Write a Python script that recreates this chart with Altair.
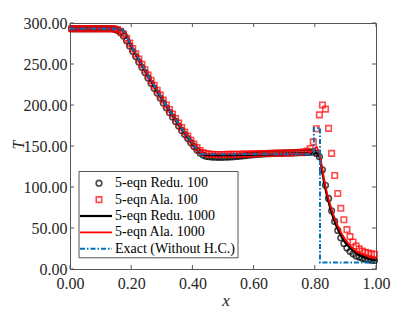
import altair as alt
import pandas as pd

# ---------------- data ----------------
# cell centres of the 100-cell runs
x100 = [round(0.005 + 0.01 * i, 3) for i in range(100)]

redu100 = [
    293, 293, 293, 293, 293, 293, 293, 293, 293, 293,
    293, 293, 293, 293, 292.5, 291, 288, 284, 278.5, 272,
    265.5, 259, 252.5, 246, 239.5, 233, 226.5, 220.5, 214.5, 208.5,
    202.5, 196.5, 191, 185.5, 180, 174.5, 169, 164, 159, 154,
    149.5, 145, 141.5, 139, 137.5, 137, 136.5, 136.3, 136.2, 136.2,
    136.3, 136.5, 136.7, 137, 137.3, 137.6, 138, 138.4, 138.8, 139.2,
    139.5, 139.8, 140.1, 140.4, 140.6, 140.8, 141, 141.2, 141.3, 141.4,
    141.5, 141.6, 141.7, 141.8, 141.9, 142, 142, 142.2, 142.4, 142.8,
    141, 137, 121, 102, 86, 71, 58, 47, 38, 31,
    25.5, 21.5, 18.5, 16, 14.5, 13, 12, 11.3, 10.8, 10.5,
]

ala100 = [
    293, 293, 293, 293, 293, 293, 293, 293, 293, 293,
    293, 293, 293, 293, 292.8, 292, 290, 286.5, 281.5, 275.5,
    269, 262.5, 256, 249.5, 243, 236.5, 230, 224, 218, 212,
    206, 200, 194.5, 189, 183.5, 178, 172.5, 167, 162, 157,
    152.5, 148, 144.5, 142, 140.8, 140.2, 139.8, 139.7, 139.7, 139.7,
    139.7, 139.8, 139.8, 139.9, 140, 140, 140.1, 140.2, 140.3, 140.4,
    140.5, 140.6, 140.7, 140.8, 140.9, 141, 141, 141.1, 141.2, 141.3,
    141.4, 141.5, 141.6, 141.8, 142, 142.3, 142.8, 144, 147, 155,
    171, 188, 200, 195, 171.5, 141, 114, 92, 74, 60,
    48, 39.5, 33, 28, 24.5, 22, 20.5, 19.5, 18.5, 18,
]

x_redu1000 = [0, 0.165, 0.172, 0.178, 0.185, 0.20, 0.22, 0.24, 0.26, 0.28,
              0.30, 0.32, 0.34, 0.36, 0.38, 0.40, 0.415, 0.425, 0.432, 0.44,
              0.47, 0.52, 0.58, 0.64, 0.70, 0.76, 0.79, 0.80, 0.808, 0.813,
              0.818, 0.823, 0.83, 0.84, 0.85, 0.86, 0.87, 0.88, 0.89, 0.90,
              0.92, 0.94, 0.96, 0.98, 1.0]
t_redu1000 = [293, 293, 292, 289.5, 285, 272, 258.5, 245.5, 232.5, 220,
              208, 196, 184.5, 173.5, 163, 152.5, 145.5, 141.5, 139.8, 139,
              138.8, 138.8, 139.2, 139.8, 140.5, 141, 141.3, 141.5, 141, 139,
              133, 122, 106, 89, 75, 63, 53, 44.5, 37.5, 32,
              24, 18, 14.5, 12, 10.5]

x_ala1000 = [0, 0.165, 0.172, 0.178, 0.185, 0.20, 0.22, 0.24, 0.26, 0.28,
             0.30, 0.32, 0.34, 0.36, 0.38, 0.40, 0.415, 0.425, 0.432, 0.44,
             0.47, 0.52, 0.58, 0.64, 0.70, 0.76, 0.78, 0.79, 0.80, 0.806,
             0.81, 0.815, 0.82, 0.83, 0.84, 0.85, 0.86, 0.87, 0.88, 0.89,
             0.90, 0.92, 0.94, 0.96, 0.98, 1.0]
t_ala1000 = [293, 293, 292.3, 290, 286, 273, 259.5, 246.5, 233.5, 221,
             209, 197, 185.5, 174.5, 164, 153.5, 146.5, 142.5, 140.8, 140.2,
             140, 140, 140, 140.2, 140.5, 140.8, 141, 143, 147, 149,
             146, 141, 132, 110, 92, 79, 67, 57, 48.5, 41.5,
             35.5, 26.5, 20.5, 17.5, 14.5, 12.5]

x_exact = [0, 0.172, 0.18, 0.20, 0.22, 0.24, 0.26, 0.28, 0.30, 0.32, 0.34,
           0.36, 0.38, 0.40, 0.42, 0.428, 0.797, 0.797, 0.817, 0.817, 1.0]
t_exact = [293, 293, 287, 272.5, 259, 246, 233, 220.5, 208.5, 196.5, 185,
           174, 163.5, 153, 143.5, 140, 140, 172, 172, 8, 8]

x_ticks = [0, 0.2, 0.4, 0.6, 0.8, 1.0]
y_ticks = [0, 50, 100, 150, 200, 250, 300]

legend_labels = ["5-eqn Redu. 100", "5-eqn Ala. 100", "5-eqn Redu. 1000",
                 "5-eqn Ala. 1000", "Exact (Without H.C.)"]

# ---------------- styling ----------------
W, H = 306, 246
FONT = "Liberation Serif"
AXC = "#555555"
BLUE = "#0072BD"

xs = alt.Scale(domain=[0, 1], nice=False, zero=False)
ys = alt.Scale(domain=[0, 300], nice=False, zero=False)

xaxis = alt.Axis(values=x_ticks, format=".2f", ticks=False, domain=False, grid=False,
                 labelFont=FONT, labelFontSize=16, labelColor="#262626",
                 labelPadding=6, labelFlush=False, title=None)
yaxis = alt.Axis(values=y_ticks, format=".2f", ticks=False, domain=False, grid=False,
                 labelFont=FONT, labelFontSize=16, labelColor="#262626",
                 labelPadding=3, labelFlush=False, title=None)

pts = pd.DataFrame({"x": x100, "redu": redu100, "ala": ala100})

circles = alt.Chart(pts).mark_point(shape="circle", filled=False, color="black",
                                     size=32, strokeWidth=1.6).encode(
    x=alt.X("x:Q", scale=xs, axis=xaxis),
    y=alt.Y("redu:Q", scale=ys, axis=yaxis),
)
squares = alt.Chart(pts).mark_point(shape="square", filled=False, color="#ff0000",
                                     size=30, strokeWidth=1.6).encode(
    x=alt.X("x:Q", scale=xs),
    y=alt.Y("ala:Q", scale=ys),
)

def line_df(xv, tv):
    return pd.DataFrame({"x": xv, "t": tv, "o": list(range(len(xv)))})

black_line = alt.Chart(line_df(x_redu1000, t_redu1000)).mark_line(
    color="black", strokeWidth=2.2).encode(
    x=alt.X("x:Q", scale=xs), y=alt.Y("t:Q", scale=ys), order="o:Q")
red_line = alt.Chart(line_df(x_ala1000, t_ala1000)).mark_line(
    color="#ff0000", strokeWidth=1.8).encode(
    x=alt.X("x:Q", scale=xs), y=alt.Y("t:Q", scale=ys), order="o:Q")
exact_line = alt.Chart(line_df(x_exact, t_exact)).mark_line(
    color=BLUE, strokeWidth=2, strokeDash=[5, 2, 1.5, 2]).encode(
    x=alt.X("x:Q", scale=xs), y=alt.Y("t:Q", scale=ys), order="o:Q")

# inward ticks on all four sides
xt = pd.DataFrame({"v": x_ticks})
yt = pd.DataFrame({"v": y_ticks})
tick_bottom = alt.Chart(xt).mark_rule(color=AXC, strokeWidth=1).encode(
    x=alt.X("v:Q", scale=xs), y=alt.value(H), y2=alt.value(H - 4))
tick_top = alt.Chart(xt).mark_rule(color=AXC, strokeWidth=1).encode(
    x=alt.X("v:Q", scale=xs), y=alt.value(0), y2=alt.value(4))
tick_left = alt.Chart(yt).mark_rule(color=AXC, strokeWidth=1).encode(
    y=alt.Y("v:Q", scale=ys), x=alt.value(0), x2=alt.value(4))
tick_right = alt.Chart(yt).mark_rule(color=AXC, strokeWidth=1).encode(
    y=alt.Y("v:Q", scale=ys), x=alt.value(W), x2=alt.value(W - 4))

# axis titles
one = pd.DataFrame({"a": [0]})
t_title = alt.Chart(one).mark_text(text="T", font=FONT, fontStyle="italic", fontSize=16,
                                    angle=270, align="center", baseline="middle",
                                    color="#262626").encode(
    x=alt.value(-51), y=alt.value(122))
x_title = alt.Chart(one).mark_text(text="x", font=FONT, fontStyle="italic", fontSize=17,
                                    align="center", baseline="middle",
                                    color="#262626").encode(
    x=alt.value(156), y=alt.value(278))

# legend
LX0, LX1, LY0, LY1 = 9, 168, 148.5, 234.8
rows = [160.2, 176.6, 193.0, 209.4, 225.8]
leg_box = alt.Chart(one).mark_rect(fill="white", stroke=AXC, strokeWidth=1).encode(
    x=alt.value(LX0), x2=alt.value(LX1), y=alt.value(LY0), y2=alt.value(LY1))
leg_layers = [leg_box]
leg_layers.append(alt.Chart(one).mark_point(shape="circle", filled=False, color="black",
                                            size=32, strokeWidth=1.6).encode(
    x=alt.value(29), y=alt.value(rows[0])))
leg_layers.append(alt.Chart(one).mark_point(shape="square", filled=False, color="#ff0000",
                                            size=30, strokeWidth=1.6).encode(
    x=alt.value(29), y=alt.value(rows[1])))
leg_layers.append(alt.Chart(one).mark_rule(color="black", strokeWidth=2.2).encode(
    x=alt.value(10), x2=alt.value(42), y=alt.value(rows[2])))
leg_layers.append(alt.Chart(one).mark_rule(color="#ff0000", strokeWidth=1.8).encode(
    x=alt.value(10), x2=alt.value(42), y=alt.value(rows[3])))
leg_layers.append(alt.Chart(one).mark_rule(color=BLUE, strokeWidth=2,
                                           strokeDash=[5, 2, 1.5, 2]).encode(
    x=alt.value(10), x2=alt.value(42), y=alt.value(rows[4])))
for lab, ry in zip(legend_labels, rows):
    leg_layers.append(alt.Chart(one).mark_text(text=lab, font=FONT, fontSize=14,
                                               align="left", baseline="middle",
                                               color="black").encode(
        x=alt.value(45), y=alt.value(ry)))

chart = alt.layer(
    circles, squares, black_line, red_line, exact_line,
    tick_bottom, tick_top, tick_left, tick_right,
    t_title, x_title, *leg_layers,
).properties(
    width=W, height=H,
    autosize=alt.AutoSizeParams(type="none"),
    padding={"left": 62, "top": 15, "right": 30, "bottom": 40},
).configure_view(
    stroke=AXC, strokeWidth=1
)

chart.save("out.html", embed_options={"renderer": "svg", "actions": False})
